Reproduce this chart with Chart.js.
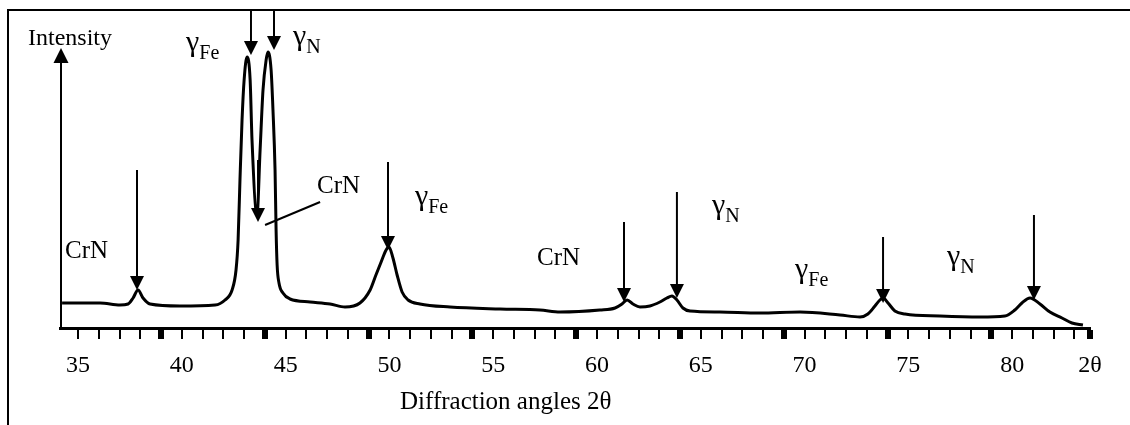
<!DOCTYPE html>
<html>
<head>
<meta charset="utf-8">
<script src="https://cdn.jsdelivr.net/npm/chart.js@4.4.1/dist/chart.umd.min.js"></script>
<style>
  html, body { margin: 0; padding: 0; background: #fff; }
</style>
</head>
<body>
<canvas id="chart" width="1130" height="425"></canvas>
<script>
// XRD scan: 2θ (deg) vs intensity (arbitrary counts)
const angles = [34.23, 35.10, 36.06, 37.02, 37.41, 37.65, 37.89, 38.13, 38.47, 39.91,
  41.60, 42.08, 42.42, 42.61, 42.71, 42.80, 42.90, 43.00, 43.14, 43.29,
  43.38, 43.62, 43.77, 43.91, 44.06, 44.15, 44.30, 44.39, 44.49, 44.54,
  44.59, 44.68, 44.87, 45.21, 46.18, 47.14, 47.86, 48.58, 49.07, 49.35,
  49.60, 49.84, 49.98, 50.17, 50.37, 50.61, 50.90, 51.47, 52.92, 55.33,
  57.25, 58.22, 60.14, 60.87, 61.20, 61.45, 61.73, 62.07, 62.55, 63.03,
  63.37, 63.61, 63.85, 64.14, 64.48, 65.92, 67.85, 69.78, 71.71, 72.67,
  73.05, 73.39, 73.63, 73.78, 74.02, 74.35, 74.84, 76.52, 78.45, 79.65,
  80.13, 80.47, 80.86, 81.34, 81.82, 82.40, 82.88, 83.41]
const counts = [250, 250, 250, 230, 240, 300, 380, 300, 240, 220,
  230, 280, 380, 580, 880, 1480, 2080, 2480, 2710, 2480,
  1880, 1130, 1780, 2380, 2680, 2760, 2580, 2180, 1580, 980,
  630, 450, 350, 290, 260, 240, 210, 250, 380, 530,
  660, 780, 810, 700, 530, 360, 280, 240, 210, 190,
  180, 160, 180, 200, 240, 280, 240, 210, 220, 260,
  300, 320, 280, 200, 170, 160, 150, 160, 130, 110,
  140, 220, 280, 300, 250, 170, 140, 120, 110, 120,
  180, 250, 300, 240, 160, 100, 50, 30]

// printed axis labels
const tickLabels = [35, 40, 45, 50, 55, 60, 65, 70, 75, 80]
const axisEndLabel = '2θ'
const xTitle = 'Diffraction angles 2θ'
const yTitle = 'Intensity'

// peak arrows: angle, start and tip (counts)
const arrowAngle = [37.84, 43.33, 44.44, 43.67, 49.93, 61.30, 63.85, 73.78, 81.05]
const arrowFrom = [1580, 3180, 3180, 1680, 1660, 1060, 1360, 910, 1130]
const arrowTo = [380, 2730, 2780, 1060, 780, 260, 300, 250, 280]

// phase labels: text, subscript, left angle, baseline counts
const labelText = ['γ', 'γ', 'CrN', 'CrN', 'γ', 'CrN', 'γ', 'γ', 'γ']
const labelSub = ['Fe', 'N', '', '', 'Fe', '', 'N', 'Fe', 'N']
const labelAngle = [40.20, 45.36, 34.37, 46.51, 51.23, 57.11, 65.54, 69.54, 76.86]
const labelCount = [2770, 2830, 700, 1350, 1230, 630, 1140, 500, 630]

// leader line from the CrN text to the shoulder between the big peaks
const leaderAngle = [44.01, 46.66]
const leaderCount = [1030, 1260]

const xMin = 34.13
const xMax = 83.75
const SERIF = '"Liberation Serif", "Times New Roman", serif'

const points = angles.map((a, i) => ({ x: a, y: counts[i] }))

function arrow(ctx, px, y0, y1, head) {
    const dir = y1 > y0 ? 1 : -1
    ctx.beginPath()
    ctx.moveTo(px, y0)
    ctx.lineTo(px, y1 - dir * head)
    ctx.stroke()
    ctx.beginPath()
    ctx.moveTo(px, y1)
    ctx.lineTo(px - head / 2, y1 - dir * head)
    ctx.lineTo(px + head / 2, y1 - dir * head)
    ctx.closePath()
    ctx.fill()
}

const annotate = {
    id: 'annotate',
    afterDraw(chart) {
        const { ctx } = chart
        const x = chart.scales.x
        const y = chart.scales.y
        ctx.save()
        ctx.strokeStyle = '#000'
        ctx.fillStyle = '#000'

        // figure frame (left and top)
        ctx.lineWidth = 2
        ctx.beginPath()
        ctx.moveTo(8, 425)
        ctx.lineTo(8, 10)
        ctx.lineTo(1130, 10)
        ctx.stroke()

        // intensity axis arrow
        arrow(ctx, x.left + 1, y.getPixelForValue(0), y.getPixelForValue(2800), 15)

        // peak arrows
        arrowAngle.forEach((a, i) => {
            arrow(ctx, x.getPixelForValue(a), y.getPixelForValue(arrowFrom[i]), y.getPixelForValue(arrowTo[i]), 14)
        })

        // leader line
        ctx.beginPath()
        ctx.moveTo(x.getPixelForValue(leaderAngle[0]), y.getPixelForValue(leaderCount[0]))
        ctx.lineTo(x.getPixelForValue(leaderAngle[1]), y.getPixelForValue(leaderCount[1]))
        ctx.stroke()

        // phase labels
        ctx.textAlign = 'left'
        ctx.textBaseline = 'alphabetic'
        labelText.forEach((t, i) => {
            const px = x.getPixelForValue(labelAngle[i])
            const py = y.getPixelForValue(labelCount[i])
            // the scanned gamma is drawn a bit larger than the Latin text
            ctx.font = (t === 'γ' ? '30px ' : '25px ') + SERIF
            ctx.fillText(t, px, py)
            if (labelSub[i]) {
                const w = ctx.measureText(t).width
                ctx.font = '20px ' + SERIF
                ctx.fillText(labelSub[i], px + w, py + 8)
            }
        })

        // axis titles
        ctx.font = '24px ' + SERIF
        ctx.fillText(yTitle, x.getPixelForValue(32.59), y.getPixelForValue(2830))
        ctx.font = '25px ' + SERIF
        ctx.fillText(xTitle, x.getPixelForValue(50.51), y.getPixelForValue(-810))
        ctx.restore()
    }
}

new Chart(document.getElementById('chart'), {
    type: 'line',
    data: {
        datasets: [{
            data: points,
            borderColor: '#000',
            borderWidth: 3,
            pointRadius: 0,
            cubicInterpolationMode: 'monotone',
            fill: false
        }]
    },
    options: {
        responsive: false,
        animation: false,
        layout: { padding: { left: 60, right: 40, top: 8, bottom: 0 } },
        plugins: {
            legend: { display: false },
            tooltip: { enabled: false }
        },
        scales: {
            x: {
                type: 'linear',
                min: xMin,
                max: xMax,
                afterBuildTicks: (scale) => {
                    const ticks = []
                    for (let v = 35; v <= 83; v++) ticks.push({ value: v })
                    ticks.push({ value: xMax })
                    scale.ticks = ticks
                },
                afterFit: (scale) => { scale.height = 97 },
                border: { display: true, color: '#000', width: 3 },
                grid: {
                    drawOnChartArea: false,
                    drawTicks: true,
                    tickLength: 11,
                    color: '#000',
                    lineWidth: (c) => {
                        const v = c.tick && c.tick.value
                        if (v === xMax) return 6
                        return (v % 5 === 4) ? 6 : 2
                    }
                },
                ticks: {
                    autoSkip: false,
                    maxRotation: 0,
                    padding: 12,
                    color: '#000',
                    font: { family: SERIF, size: 24 },
                    callback: (v) => {
                        if (v === xMax) return axisEndLabel
                        return tickLabels.includes(v) ? String(v) : ''
                    }
                }
            },
            y: {
                display: false,
                min: 0,
                max: 3200
            }
        }
    },
    plugins: [annotate]
})
</script>
</body>
</html>
